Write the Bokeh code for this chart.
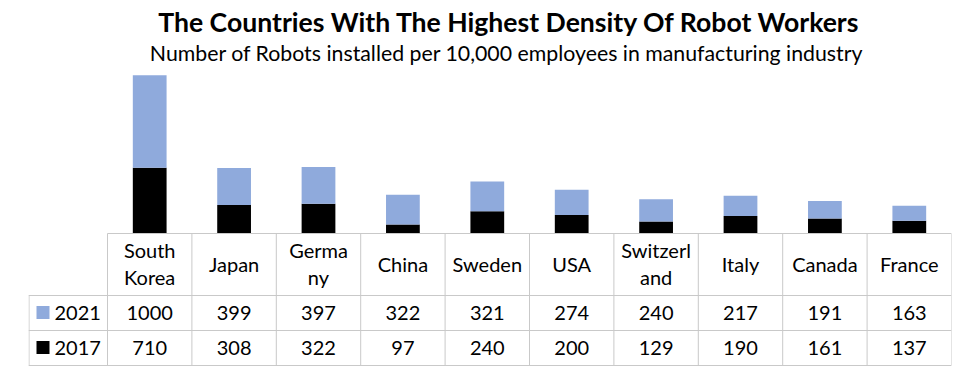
from bokeh.plotting import figure
from bokeh.models import Range1d
from bokeh.core.properties import value
from bokeh.embed import file_html
from bokeh.resources import INLINE

# ---- data ----
countries = ["South Korea", "Japan", "Germany", "China", "Sweden", "USA",
             "Switzerland", "Italy", "Canada", "France"]
tick_labels = ["South\nKorea", "Japan", "Germa\nny", "China", "Sweden", "USA",
               "Switzerl\nand", "Italy", "Canada", "France"]
series_names = ["2021", "2017"]
values_2021 = [1000, 399, 397, 322, 321, 274, 240, 217, 191, 163]
values_2017 = [710, 308, 322, 97, 240, 200, 129, 190, 161, 137]

title_text = "The Countries With The Highest Density Of Robot Workers"
subtitle_text = "Number of Robots installed per 10,000 employees  in manufacturing industry"

# ---- layout constants (image pixel coords) ----
FONT = "Lato"
BLUE = "#8FAADC"
BLACK = "#000000"
GRID = "#C9C9C9"
W, H = 953, 376
LEFT, RIGHT, TOP, BOTTOM = 28, 951, 0, H
COL0 = 107
NCOL = len(countries)
COLW = (RIGHT - COL0) / NCOL
BASE = 233
SCALE = 0.0925  # px per unit
ROW_TOP = [233, 295, 330, 365]

p = figure(width=W, height=H, output_backend="svg", toolbar_location=None,
           x_axis_type=None, y_axis_type=None,
           min_border_left=LEFT, min_border_right=W - RIGHT,
           min_border_top=0, min_border_bottom=0,
           x_range=Range1d(-(COL0 - LEFT) / COLW, NCOL),
           y_range=Range1d(-(BOTTOM - BASE) / SCALE, (BASE - TOP) / SCALE))
p.outline_line_color = None
p.grid.visible = False
p.background_fill_color = "white"
p.border_fill_color = "white"
p.extra_x_ranges = {"px": Range1d(LEFT, RIGHT)}
p.extra_y_ranges = {"px": Range1d(BOTTOM, TOP)}

idx = [i + 0.5 for i in range(NCOL)]
tops = [a + b for a, b in zip(values_2017, values_2021)]

# bars (stacked)
p.vbar(x=idx, bottom=0, top=values_2017, width=0.4, fill_color=BLACK, line_color=None)
p.vbar(x=idx, bottom=values_2017, top=tops, width=0.4, fill_color=BLUE, line_color=None)

# table grid lines
hx0 = [COL0, LEFT, LEFT, LEFT]
p.segment(x0=hx0, x1=[RIGHT] * 4, y0=ROW_TOP, y1=ROW_TOP, line_color=GRID, line_width=1,
          x_range_name="px", y_range_name="px")
vx = [COL0 + i * COLW for i in range(NCOL + 1)]
p.segment(x0=vx, x1=vx, y0=[ROW_TOP[0]] * len(vx), y1=[ROW_TOP[-1]] * len(vx),
          line_color=GRID, line_width=1, x_range_name="px", y_range_name="px")
p.segment(x0=[LEFT + 0.5], x1=[LEFT + 0.5], y0=[ROW_TOP[1]], y1=[ROW_TOP[-1]],
          line_color=GRID, line_width=1, x_range_name="px", y_range_name="px")

# category labels
p.text(x=idx, y=[263] * NCOL, text=tick_labels, y_range_name="px",
       text_font=value(FONT), text_font_size="20px", text_color="#000000",
       text_align="center", text_baseline="middle", text_line_height=1.15)

# values
rows_y = [312, 347]
for vals, ry in zip([values_2021, values_2017], rows_y):
    p.text(x=idx, y=[ry] * NCOL, text=[str(v) for v in vals], y_range_name="px",
           text_font=value(FONT), text_font_size="20px", text_color="#000000",
           text_align="center", text_baseline="middle")

# legend keys
p.rect(x=[42.5, 42.5], y=rows_y, width=13, height=13, fill_color=[BLUE, BLACK],
       line_color=None, x_range_name="px", y_range_name="px")
p.text(x=[54, 54], y=rows_y, text=series_names, x_range_name="px", y_range_name="px",
       text_font=value(FONT), text_font_size="20px", text_color="#000000",
       text_align="left", text_baseline="middle")

# titles
p.text(x=[509], y=[21], text=[title_text], x_range_name="px", y_range_name="px",
       text_font=value(FONT), text_font_size="26.6px", text_font_style="bold",
       text_color="#000000", text_align="center", text_baseline="middle")
p.text(x=[509], y=[52], text=[subtitle_text], x_range_name="px", y_range_name="px",
       text_font=value(FONT), text_font_size="21.3px", text_color="#000000",
       text_align="center", text_baseline="middle")

open("out.html", "w").write(file_html(p, INLINE))
